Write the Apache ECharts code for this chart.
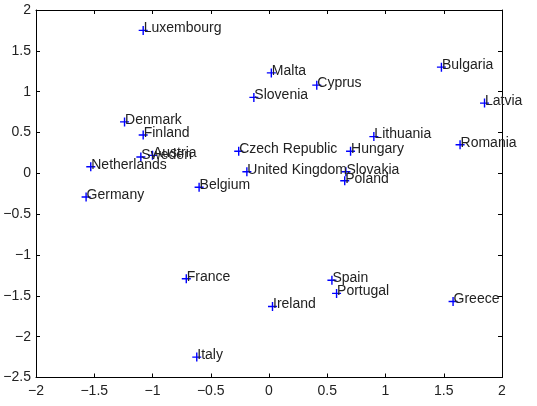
<!DOCTYPE html>
<html>
<head>
<meta charset="utf-8">
<script src="https://cdn.jsdelivr.net/npm/echarts@6/dist/echarts.min.js"></script>
<style>
  html, body { margin: 0; padding: 0; background: #fff; }
  #chart { width: 537px; height: 406px; }
</style>
</head>
<body>
<div id="chart"></div>
<script>
const countries = ['Luxembourg','Denmark','Finland','Sweden','Austria','Netherlands','Germany','Belgium',
  'Czech Republic','United Kingdom','Slovenia','Malta','Cyprus','Bulgaria','Latvia','Lithuania','Romania',
  'Hungary','Slovakia','Poland','France','Italy','Spain','Portugal','Ireland','Greece'];
const xValues = [-1.08,-1.24,-1.08,-1.10,-1.00,-1.53,-1.57,-0.60,
  -0.26,-0.19,-0.13,0.02,0.41,1.48,1.85,0.90,1.64,
  0.70,0.66,0.65,-0.71,-0.62,0.54,0.58,0.03,1.58];
const yValues = [1.75,0.63,0.47,0.20,0.22,0.08,-0.29,-0.17,
  0.27,0.02,0.93,1.23,1.08,1.30,0.86,0.45,0.35,
  0.27,0.02,-0.09,-1.29,-2.25,-1.31,-1.47,-1.63,-1.57];
const xTicks = [-2,-1.5,-1,-0.5,0,0.5,1,1.5,2];
const yTicks = [-2.5,-2,-1.5,-1,-0.5,0,0.5,1,1.5,2];

const fmt = v => String(v).replace('-', '\u2212');
const font = 'Liberation Sans, Arial, Helvetica, sans-serif';

const data = countries.map((c, i) => ({ name: c, value: [xValues[i], yValues[i]] }));

const baseAxisLine = { show: true, onZero: false, lineStyle: { color: '#000', width: 1 } };
const baseTick = { show: true, inside: true, length: 4, lineStyle: { color: '#000', width: 1 } };

function xAxis(pos, showLabel) {
  return {
    type: 'value', position: pos,
    min: xTicks[0], max: xTicks[xTicks.length - 1], interval: 0.5,
    axisLine: baseAxisLine, axisTick: baseTick, splitLine: { show: false },
    axisLabel: { show: showLabel, formatter: fmt, color: '#222', fontSize: 14, fontFamily: font, margin: 7 }
  };
}
function yAxis(pos, showLabel) {
  return {
    type: 'value', position: pos,
    min: yTicks[0], max: yTicks[yTicks.length - 1], interval: 0.5,
    axisLine: baseAxisLine, axisTick: baseTick, splitLine: { show: false },
    axisLabel: { show: showLabel, formatter: fmt, color: '#222', fontSize: 14, fontFamily: font, margin: 5 }
  };
}

const chart = echarts.init(document.getElementById('chart'), null, { renderer: 'canvas' });
chart.setOption({
  animation: false,
  backgroundColor: '#fff',
  grid: { left: 36, right: 35, top: 10, bottom: 28.5, containLabel: false },
  xAxis: [xAxis('bottom', true), xAxis('top', false)],
  yAxis: [yAxis('left', true), yAxis('right', false)],
  series: [{
    type: 'scatter',
    xAxisIndex: 0, yAxisIndex: 0,
    data: data,
    symbol: 'path://M3.8,0H5.2V3.8H9V5.2H5.2V9H3.8V5.2H0V3.8H3.8Z',
    symbolSize: 9,
    itemStyle: { color: '#0000ff', opacity: 1 },
    label: {
      show: true, formatter: '{b}', position: [5, 2.5], align: 'left', verticalAlign: 'middle',
      color: '#222', fontSize: 14, fontFamily: font
    },
    emphasis: { disabled: true }
  }]
});
</script>
</body>
</html>
